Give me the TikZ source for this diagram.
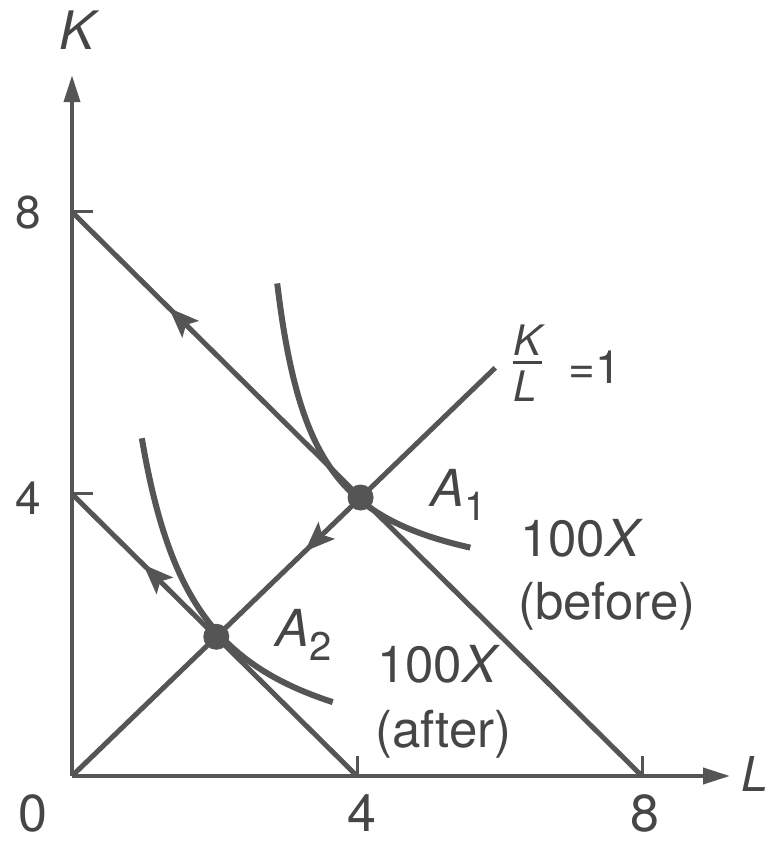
\documentclass[tikz,border=0pt]{standalone}
\usepackage{fontspec}
\setmainfont{TeX Gyre Heros}
\usetikzlibrary{arrows.meta,decorations.markings}
\definecolor{ink}{RGB}{85,85,85}
\definecolor{txt}{RGB}{70,70,70}
\tikzset{
  axisln/.style={line width=4pt, draw=ink, -{Triangle[length=27pt,width=16pt]}},
  tickln/.style={line width=3pt, draw=ink},
  budget/.style={line width=5pt, draw=ink},
  isoq/.style={line width=6pt, draw=ink},
  lab/.style={text=txt, inner sep=0pt, font=\fontsize{51}{60}\selectfont},
  axlab/.style={text=txt, inner sep=0pt, font=\fontsize{46}{50}\selectfont},
  botlab/.style={text=txt, inner sep=0pt, font=\fontsize{52}{56}\selectfont},
  varlab/.style={text=txt, inner sep=0pt, font=\fontsize{53}{56}\selectfont\itshape},
  fraclab/.style={text=txt, inner sep=0pt, font=\fontsize{42}{46}\selectfont\itshape},
  midarrow/.style={postaction={decorate, decoration={markings,
      mark=at position #1 with {\arrow{Stealth[length=30pt,width=23pt,inset=6pt]}}}}},
}
\newcommand{\subone}[1]{\raisebox{-14pt}{\fontsize{40}{40}\selectfont\upshape #1}}
\begin{document}
\begin{tikzpicture}[x=71.25pt,y=70.5pt]
\useasboundingbox (-72pt,-65pt) rectangle (702pt,776pt);
\fill[white] (-72pt,-65pt) rectangle (702pt,776pt);
% coordinates
\coordinate (O) at (0,0);
\coordinate (Ktip) at (0,9.94);
\coordinate (Ltip) at (9.235,0);
\coordinate (K8) at (0,8);
\coordinate (K4) at (0,4);
\coordinate (L8) at (8,0);
\coordinate (L4) at (4,0);
\coordinate (R) at (5.94,5.79);
\coordinate (A1) at (4.05,3.95);
\coordinate (A2) at (2.025,1.975);
% ticks
\draw[tickln] (K8) -- ++(21pt,0);
\draw[tickln] (K4) -- ++(21pt,0);
\draw[tickln] (L4) -- ++(0,20pt);
\draw[tickln] (L8) -- ++(0,20pt);
% axes
\draw[axisln] (O) -- (Ktip);
\draw[axisln] (O) -- (Ltip);
% budget lines and ray
\draw[budget, midarrow=0.83] (L8) -- (K8);
\draw[budget, midarrow=0.75] (L4) -- (K4);
\draw[budget, midarrow=0.45] (R) -- (O);
% isoquants
\draw[isoq] plot[domain=2.88:5.59, samples=60, smooth] (\x,{2.5+2.4/(\x-2.345)});
\draw[isoq] plot[domain=0.98:3.66, samples=60, smooth] (\x,{-0.1+4.02/(\x-0.158)});
% points
\fill[ink] (A1) circle[radius=13pt];
\fill[ink] (A2) circle[radius=13pt];
% axis labels
\node[varlab, anchor=base] (klab) at (5pt,726pt) {K};
\node[varlab, anchor=base west, font=\fontsize{48}{52}\selectfont\itshape] (llab) at (669pt,-15pt) {L};
\node[axlab] (y8) at (-44pt,563pt) {8};
\node[axlab] (y4) at (-44pt,278pt) {4};
\node[botlab] (x0) at (-39pt,-37pt) {0};
\node[botlab] (x4) at (290pt,-37pt) {4};
\node[botlab] (x8) at (573pt,-37pt) {8};
% ray label
\node[fraclab, anchor=base] (fk) at (456pt,420pt) {K};
\draw[line width=3pt, draw=txt] (441pt,413pt) -- (470pt,413pt);
\node[fraclab, anchor=base] (fl) at (453pt,374pt) {L};
\node[text=txt, inner sep=0pt, font=\fontsize{46}{50}\selectfont, anchor=base west] (eq) at (496pt,392pt) {=1};
% point labels
\node[lab, anchor=base west] (a1) at (358pt,269pt) {\textit{A}\subone{1}};
\node[lab, anchor=base west] (a2) at (203pt,129pt) {\textit{A}\subone{2}};
% isoquant labels
\node[lab, anchor=base west] (b1) at (448pt,219pt) {100\textit{X}};
\node[lab, anchor=base west] (b2) at (446pt,156pt) {(before)};
\node[lab, anchor=base west] (c1) at (305pt,93pt) {100\textit{X}};
\node[lab, anchor=base west] (c2) at (303pt,29pt) {(after)};
\end{tikzpicture}
\end{document}
